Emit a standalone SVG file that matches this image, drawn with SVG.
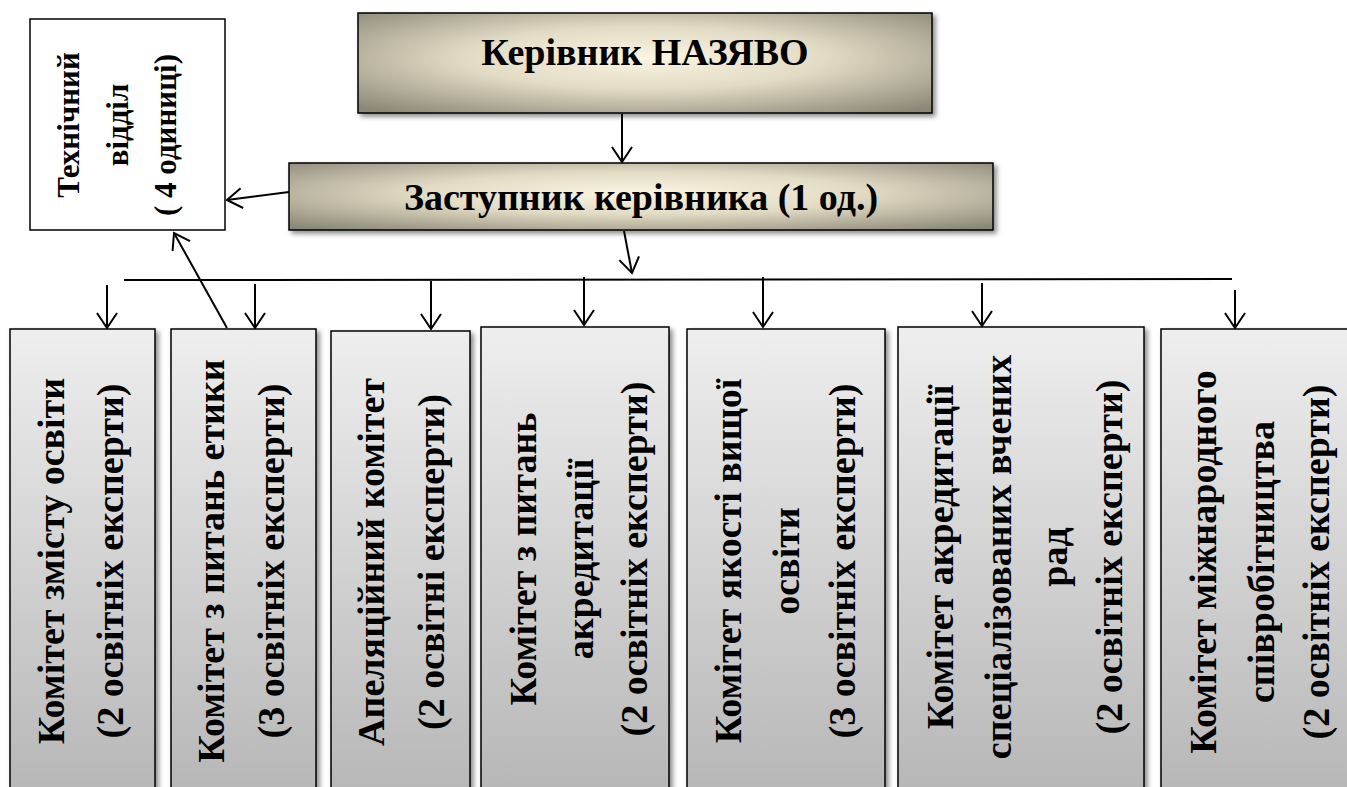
<svg xmlns="http://www.w3.org/2000/svg" width="1347" height="787" viewBox="0 0 1347 787">
<style>
text{font-family:'Liberation Serif','DejaVu Serif',serif;font-weight:bold;fill:#000;text-anchor:middle}
.c{font-size:38px}
.tech{font-size:31px}
.h{font-size:38px}
.box{stroke:#000;stroke-width:1.5}
.ln{stroke:#000;stroke-width:2;fill:none}
.ar{stroke:#000;stroke-width:2;fill:none;marker-end:url(#arr)}
</style>
<defs>
<marker id="arr" markerUnits="userSpaceOnUse" viewBox="-17 -12 19 24" markerWidth="19" markerHeight="24" refX="0" refY="0" orient="auto">
<path d="M-15,-10 L0,0 L-15,10" fill="none" stroke="#000" stroke-width="2"/>
</marker>
<radialGradient id="gold" cx="0.5" cy="0.45" r="0.7">
<stop offset="0" stop-color="#faf5e2"/>
<stop offset="0.45" stop-color="#e2dbc4"/>
<stop offset="1" stop-color="#8c8878"/>
</radialGradient>
<linearGradient id="gray" x1="0" y1="0" x2="0" y2="1">
<stop offset="0" stop-color="#eeeeee"/>
<stop offset="1" stop-color="#b6b6b6"/>
</linearGradient>
<filter id="sh" x="-10%" y="-10%" width="130%" height="130%">
<feDropShadow dx="3" dy="3" stdDeviation="2.5" flood-color="#000" flood-opacity="0.45"/>
</filter>
</defs>

<g id="tech">
<rect x="30" y="19" width="195" height="211" fill="#fff" stroke="#000" stroke-width="1.5"/>
<text class="tech" transform="translate(69,125) rotate(-90)" dy="0.33em">Технічний</text>
<text class="tech" transform="translate(118,125) rotate(-90)" dy="0.33em">відділ</text>
<text class="tech" transform="translate(166,135) rotate(-90)" dy="0.33em">( 4 одиниці)</text>
</g>

<g id="head">
<rect class="box" x="358" y="13" width="574" height="100" fill="url(#gold)" filter="url(#sh)"/>
<text class="h" x="645" y="52" dy="0.33em">Керівник НАЗЯВО</text>
</g>

<g id="deputy">
<rect class="box" x="289" y="163" width="704" height="67" fill="url(#gold)" filter="url(#sh)"/>
<text class="h" x="641" y="197" dy="0.33em">Заступник керівника (1 од.)</text>
</g>

<g id="c1">
<rect class="box" x="10" y="329" width="145" height="470" fill="url(#gray)" filter="url(#sh)"/>
<text class="c" transform="translate(53,561) rotate(-90)" dy="0.3em">Комітет змісту освіти</text>
<text class="c" transform="translate(112,561) rotate(-90)" dy="0.3em">(2 освітніх експерти)</text>
</g>

<g id="c2">
<rect class="box" x="171" y="329" width="145" height="470" fill="url(#gray)" filter="url(#sh)"/>
<text class="c" transform="translate(213,561) rotate(-90)" dy="0.3em">Комітет з питань етики</text>
<text class="c" transform="translate(273,561) rotate(-90)" dy="0.3em">(3 освітніх експерти)</text>
</g>

<g id="c3">
<rect class="box" x="331" y="331" width="139" height="470" fill="url(#gray)" filter="url(#sh)"/>
<text class="c" transform="translate(373,562) rotate(-90)" dy="0.3em">Апеляційний комітет</text>
<text class="c" transform="translate(433,562) rotate(-90)" dy="0.3em">(2 освітні експерти)</text>
</g>

<g id="c4">
<rect class="box" x="481" y="327" width="188" height="470" fill="url(#gray)" filter="url(#sh)"/>
<text class="c" transform="translate(525,559) rotate(-90)" dy="0.3em">Комітет з питань</text>
<text class="c" transform="translate(582,559) rotate(-90)" dy="0.3em">акредитації</text>
<text class="c" transform="translate(636,559) rotate(-90)" dy="0.3em">(2 освітніх експерти)</text>
</g>

<g id="c5">
<rect class="box" x="687" y="329" width="198" height="470" fill="url(#gray)" filter="url(#sh)"/>
<text class="c" transform="translate(730,561) rotate(-90)" dy="0.3em">Комітет якості вищої</text>
<text class="c" transform="translate(788,561) rotate(-90)" dy="0.3em">освіти</text>
<text class="c" transform="translate(844,561) rotate(-90)" dy="0.3em">(3 освітніх експерти)</text>
</g>

<g id="c6">
<rect class="box" x="898" y="327" width="246" height="470" fill="url(#gray)" filter="url(#sh)"/>
<text class="c" transform="translate(942,557) rotate(-90)" dy="0.3em">Комітет акредитації</text>
<text class="c" transform="translate(1000,557) rotate(-90)" dy="0.3em">спеціалізованих вчених</text>
<text class="c" transform="translate(1056,557) rotate(-90)" dy="0.3em">рад</text>
<text class="c" transform="translate(1111,557) rotate(-90)" dy="0.3em">(2 освітніх експерти)</text>
</g>

<g id="c7">
<rect class="box" x="1161" y="329" width="200" height="470" fill="url(#gray)" filter="url(#sh)"/>
<text class="c" transform="translate(1205,562) rotate(-90)" dy="0.3em">Комітет міжнародного</text>
<text class="c" transform="translate(1263,562) rotate(-90)" dy="0.3em">співробітництва</text>
<text class="c" transform="translate(1318,562) rotate(-90)" dy="0.3em">(2 освітніх експерти)</text>
</g>

<g id="connectors">
<line class="ar" x1="622" y1="114" x2="622" y2="162"/>
<line class="ar" x1="289" y1="192" x2="227" y2="200"/>
<line class="ar" x1="624" y1="231" x2="632" y2="273"/>
<line class="ln" x1="124" y1="280" x2="1232" y2="279"/>
<line class="ar" x1="107" y1="285" x2="107" y2="328"/>
<line class="ar" x1="255" y1="284" x2="255" y2="328"/>
<line class="ar" x1="431" y1="281" x2="431" y2="329"/>
<line class="ar" x1="584" y1="277" x2="584" y2="325"/>
<line class="ar" x1="763" y1="277" x2="763" y2="327"/>
<line class="ar" x1="982" y1="283" x2="982" y2="326"/>
<line class="ar" x1="1235" y1="290" x2="1235" y2="328"/>
<line class="ar" x1="227" y1="328" x2="174" y2="233"/>
</g>
</svg>
